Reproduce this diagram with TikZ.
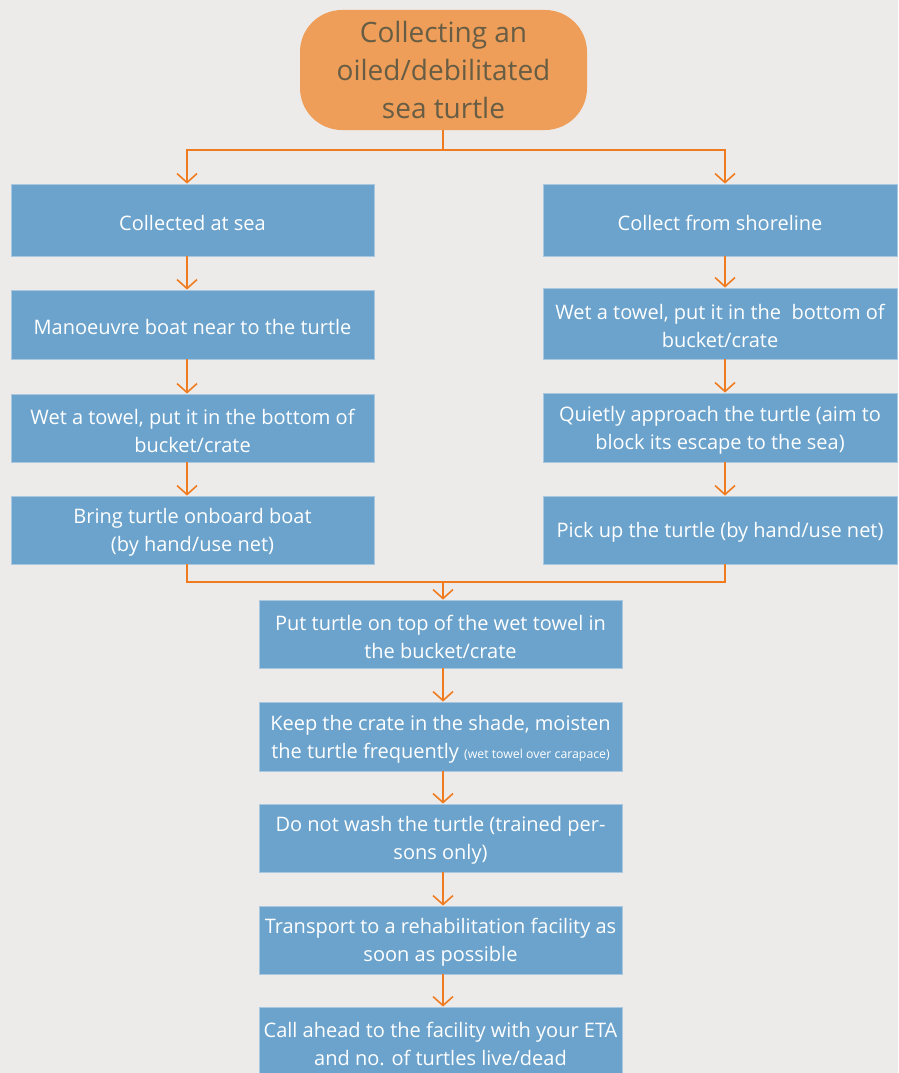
\documentclass[tikz,border=0pt]{standalone}
\usepackage{fontspec}
\setmainfont{Open Sans}
\usetikzlibrary{arrows.meta,calc}
\definecolor{bg}{HTML}{EDEBE9}
\definecolor{boxblue}{HTML}{6BA3CC}
\definecolor{boxedge}{HTML}{A9C8E0}
\definecolor{headfill}{HTML}{EE9E58}
\definecolor{headtext}{HTML}{675D45}
\definecolor{flow}{HTML}{F07C22}
\begin{document}
\begin{tikzpicture}[x=1pt,y=-1pt,
  stepbox/.style={draw=boxedge,line width=0.8pt,fill=boxblue,inner sep=0pt},
  steptext/.style={text=white,align=center,inner sep=0pt,yshift=-2.5pt,
    font=\fontsize{20}{28}\selectfont},
  lbox/.style={stepbox,minimum width=363pt},
  rbox/.style={stepbox,minimum width=354pt},
  cbox/.style={stepbox,minimum width=363pt},
  head/.style={fill=headfill,rounded corners=42pt,text=headtext,align=center,
    minimum width=287pt,minimum height=120pt,inner sep=0pt,
    font=\fontsize{28}{38}\selectfont},
  flowline/.style={draw=flow,line width=1.6pt},
  flowarrow/.style={flowline,-{Straight Barb[length=9pt,width=20pt,line width=1.6pt]}}
]
\fill[bg] (0,0) rectangle (898,1073);
\useasboundingbox (0,0) rectangle (898,1073);

% heading
\node[head] (top) at (443.5,70) {Collecting an\\oiled/debilitated\\sea turtle};

% left branch: collected at sea
\node[lbox,minimum height=72pt,label={[steptext]center:Collected at sea}] (b1) at (192.5,220) {};
\node[lbox,minimum height=69pt,label={[steptext]center:Manoeuvre boat near to the turtle}] (b2) at (192.5,324.5) {};
\node[lbox,minimum height=68pt,label={[steptext]center:{Wet a towel, put it in the bottom of\\bucket/crate}}] (b3) at (192.5,428) {};
\node[lbox,minimum height=68pt,label={[steptext]center:{Bring turtle onboard boat\\(by hand/use net)}}] (b4) at (192.5,530) {};

% right branch: collected from shoreline
\node[rbox,minimum height=72pt,label={[steptext]center:Collect from shoreline}] (r1) at (720,220) {};
\node[rbox,minimum height=71pt,label={[steptext]center:{Wet a towel, put it in the~ bottom of\\bucket/crate}}] (r2) at (720,323.5) {};
\node[rbox,minimum height=69pt,label={[steptext]center:{Quietly approach the turtle (aim to\\block its escape to the sea)}}] (r3) at (720,427.5) {};
\node[rbox,minimum height=68pt,label={[steptext]center:{Pick up the turtle (by hand/use net)}}] (r4) at (720,530) {};

% common steps
\node[cbox,minimum height=68pt,label={[steptext]center:{Put turtle on top of the wet towel in\\the bucket/crate}}] (c1) at (440.5,634) {};
\node[cbox,minimum height=69pt,label={[steptext]center:{Keep the crate in the shade, moisten\\the turtle frequently {\fontsize{12.3}{13}\selectfont(wet towel over carapace)}}}] (c2) at (440.5,736.5) {};
\node[cbox,minimum height=68pt,label={[steptext]center:{Do not wash the turtle (trained per-\\sons only)}}] (c3) at (440.5,838) {};
\node[cbox,minimum height=68pt,label={[steptext]center:{Transport to a rehabilitation facility as\\soon as possible}}] (c4) at (440.5,940) {};
\node[cbox,minimum height=68pt,label={[steptext]center:{Call ahead to the facility with your ETA\\and no. of turtles live/dead}}] (c5) at (440.5,1041) {};

% connector columns and junctions
\coordinate (lx) at (187,0);
\coordinate (rx) at (725,0);
\coordinate (cx) at (443,0);
\coordinate (split) at (443,150);
\coordinate (merge) at (443,582);

% split from the heading
\draw[flowline] (top.south -| cx) -- (split);
\draw[flowarrow] (split) -| (b1.north -| lx);
\draw[flowarrow] (split) -| (r1.north -| rx);

% left chain
\draw[flowarrow] (b1.south -| lx) -- (b2.north -| lx);
\draw[flowarrow] (b2.south -| lx) -- (b3.north -| lx);
\draw[flowarrow] (b3.south -| lx) -- (b4.north -| lx);

% right chain
\draw[flowarrow] (r1.south -| rx) -- (r2.north -| rx);
\draw[flowarrow] (r2.south -| rx) -- (r3.north -| rx);
\draw[flowarrow] (r3.south -| rx) -- (r4.north -| rx);

% merge into the common steps
\draw[flowline] (b4.south -| lx) |- (merge) -| (r4.south -| rx);
\draw[flowarrow] (merge) -- (c1.north -| cx);

% common chain
\draw[flowarrow] (c1.south -| cx) -- (c2.north -| cx);
\draw[flowarrow] (c2.south -| cx) -- (c3.north -| cx);
\draw[flowarrow] (c3.south -| cx) -- (c4.north -| cx);
\draw[flowarrow] (c4.south -| cx) -- (c5.north -| cx);
\end{tikzpicture}
\end{document}
